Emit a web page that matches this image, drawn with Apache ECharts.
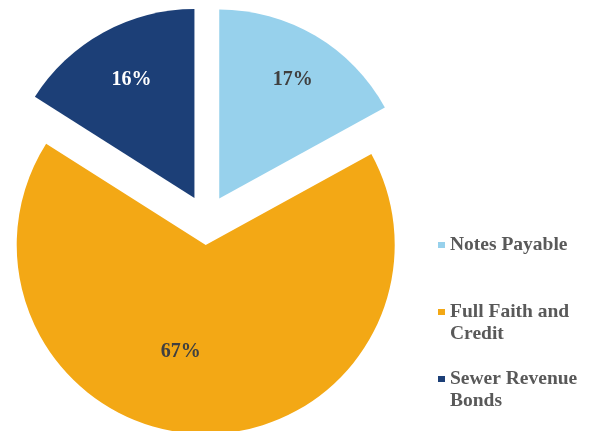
<!DOCTYPE html>
<html>
<head>
<meta charset="utf-8">
<style>
  html, body { margin: 0; padding: 0; background: #ffffff; }
  #chart { width: 589px; height: 431px; }
</style>
<script src="https://cdn.jsdelivr.net/npm/echarts@6/dist/echarts.min.js"></script>
</head>
<body>
<div id="chart"></div>
<script>
// Debt composition by type (share of total, %)
const categories = ['Notes Payable', 'Full Faith and Credit', 'Sewer Revenue Bonds'];
const shares = [17, 67, 16];
const legendLines = ['Notes Payable', 'Full Faith and\nCredit', 'Sewer Revenue\nBonds'];

const sliceColors = ['#97D1EC', '#F3A815', '#1C3F77'];
const labelColors = ['#404040', '#404040', '#ffffff'];
// nudges for the in-slice percentage labels
const labelNudge = [[24, -35], [-22, 9.5], [-16, -32.5]];

const serif = '"Liberation Serif", "Times New Roman", serif';
const LINE = 22;

const chart = echarts.init(document.getElementById('chart'), null, { renderer: 'canvas' });

const seriesData = categories.map((name, i) => ({
  name: name,
  value: shares[i],
  selected: true,
  itemStyle: { color: sliceColors[i] },
  select: { itemStyle: { color: sliceColors[i], borderWidth: 0 } },
  label: { color: labelColors[i] }
}));

// Every legend entry is three lines tall with its first text line in the
// middle, so the square marker sits level with that first line.
function legendText(name) {
  const text = legendLines[categories.indexOf(name)];
  return text.indexOf('\n') >= 0 ? '\n' + text : '\n' + text + '\n';
}

chart.setOption({
  animation: false,
  backgroundColor: '#ffffff',
  legend: {
    orient: 'vertical',
    left: 438,
    top: 212,
    padding: 0,
    itemGap: 1,
    icon: 'rect',
    itemWidth: 7,
    itemHeight: 6,
    selectedMode: false,
    data: categories,
    formatter: legendText,
    textStyle: {
      fontFamily: serif,
      fontWeight: 'bold',
      fontSize: 19.5,
      lineHeight: LINE,
      color: '#595959'
    }
  },
  series: [{
    type: 'pie',
    center: [206.5, 220],
    radius: 189,
    startAngle: 90,
    clockwise: true,
    selectedMode: 'multiple',
    selectedOffset: 25,
    avoidLabelOverlap: false,
    emphasis: { disabled: true },
    select: { itemStyle: { borderWidth: 0 } },
    label: {
      show: true,
      position: 'inside',
      formatter: '{d}%',
      fontFamily: serif,
      fontWeight: 'bold',
      fontSize: 20
    },
    labelLine: { show: false },
    labelLayout: params => ({
      dx: labelNudge[params.dataIndex][0],
      dy: labelNudge[params.dataIndex][1]
    }),
    data: seriesData
  }]
});
</script>
</body>
</html>
